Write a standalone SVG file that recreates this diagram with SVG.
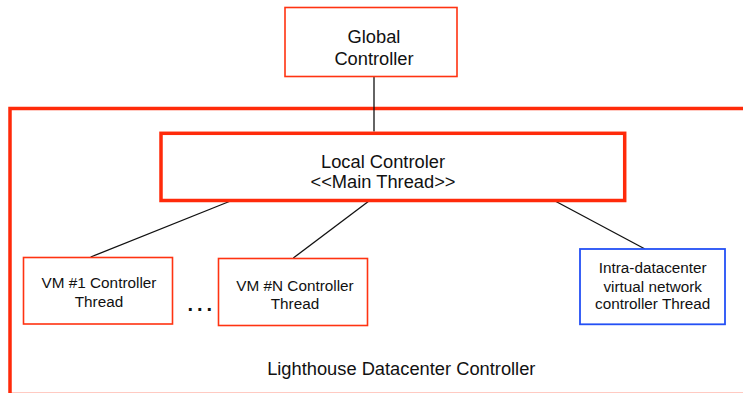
<svg xmlns="http://www.w3.org/2000/svg" width="743" height="393" viewBox="0 0 743 393">
<style>
.big{font-family:"Liberation Sans",Arial,sans-serif;font-size:18.3px;fill:#111;text-anchor:middle}
.sm{font-family:"Liberation Sans",Arial,sans-serif;font-size:15.3px;fill:#111;text-anchor:middle}
.thin{fill:#fff;stroke:#ff3311;stroke-width:1.6}
.thick{fill:none;stroke:#ff2a0a;stroke-width:3.5}
.blue{fill:#fff;stroke:#2450f5;stroke-width:1.8}
.conn{stroke:#111;stroke-width:1.3;fill:none}
</style>
<rect width="743" height="393" fill="#fff"/>
<g id="datacenter">
<rect class="thick" x="10" y="108.5" width="760" height="286"/>
<text class="big" x="401.3" y="375">Lighthouse Datacenter Controller</text>
</g>
<g id="connectors">
<line class="conn" x1="374" y1="77" x2="374" y2="131.5"/>
<line class="conn" x1="229.3" y1="201.5" x2="90.7" y2="257"/>
<line class="conn" x1="368.3" y1="201.5" x2="293.3" y2="258"/>
<line class="conn" x1="556" y1="201.5" x2="645" y2="249"/>
</g>
<g id="global">
<rect class="thin" x="285" y="7.5" width="172" height="69"/>
<text class="big" x="374" y="43">Global</text>
<text class="big" x="374" y="65">Controller</text>
</g>
<g id="local">
<rect class="thick" x="161" y="133.3" width="463.7" height="67.2"/>
<text class="big" x="383" y="167.5">Local Controler</text>
<text class="big" x="383" y="188">&lt;&lt;Main Thread&gt;&gt;</text>
</g>
<g id="vm1">
<rect class="thin" x="23.5" y="257.5" width="149" height="66.5"/>
<text class="sm" x="99" y="288.3">VM #1 Controller</text>
<text class="sm" x="99" y="306.7">Thread</text>
</g>
<g id="dots">
<text x="187.5" y="311" style="font-family:'Liberation Sans',Arial,sans-serif;font-size:20px;font-weight:bold;letter-spacing:3.9px;fill:#111">...</text>
</g>
<g id="vmN">
<rect class="thin" x="218.5" y="258.5" width="149" height="67"/>
<text class="sm" x="295" y="291">VM #N Controller</text>
<text class="sm" x="295" y="309.3">Thread</text>
</g>
<g id="intra">
<rect class="blue" x="580" y="249" width="145" height="75.3"/>
<text class="sm" x="652.7" y="273.3">Intra-datacenter</text>
<text class="sm" x="652.7" y="291.7">virtual network</text>
<text class="sm" x="652.7" y="309.3">controller Thread</text>
</g>
</svg>
